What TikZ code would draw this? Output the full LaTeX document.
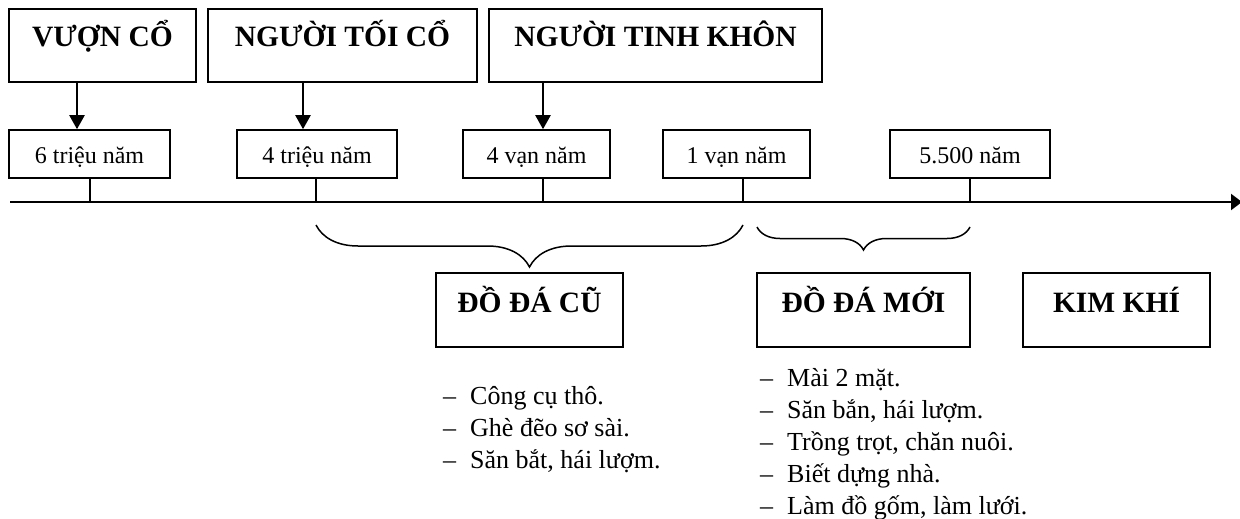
\documentclass[tikz,border=0pt]{standalone}
\usepackage{fontspec}
\setmainfont{Liberation Serif}
\usetikzlibrary{arrows.meta,decorations.pathreplacing,positioning}

\newcommand{\gach}{\makebox[27pt][l]{–}}

\tikzset{
  tieude/.style={draw, line width=1.8pt, inner sep=0pt, minimum width=187pt,
    text height=38pt, text depth=35pt, font=\fontsize{29.5}{31}\selectfont\bfseries},
  thoiky/.style={tieude, text height=39pt, text depth=35pt},
  moc/.style={draw, line width=1.6pt, inner sep=0pt, minimum width=160pt,
    text height=33pt, text depth=15pt, font=\fontsize{24}{26}\selectfont},
  dong/.style={anchor=base west, inner sep=0pt, font=\fontsize{26}{32}\selectfont},
  muiten/.style={line width=2.2pt, -{Triangle[length=14pt,width=15pt]}},
  truc/.style={line width=2.2pt, -{Triangle[length=11pt,width=16pt]}},
  vach/.style={line width=1.3pt},
  ngoac/.style={line width=1.5pt, decorate}
}

\begin{document}
\begin{tikzpicture}[x=1pt,y=-1pt]
  \useasboundingbox (0,0) rectangle (1240,519);

  \node[tieude] (vuon) at (102.5,45.5) {VƯỢN CỔ};
  \node[tieude, minimum width=269pt] (toico) at (342.5,45.5) {NGƯỜI TỐI CỔ};
  \node[tieude, minimum width=333pt] (tinhkhon) at (655.5,45.5) {NGƯỜI TINH KHÔN};

  \node[moc, minimum width=161pt] (m6trieu) at (89.5,154) {6 triệu năm};
  \node[moc] (m4trieu) at (317,154) {4 triệu năm};
  \node[moc, minimum width=147pt] (m4van) at (536.5,154) {4 vạn năm};
  \node[moc, minimum width=147pt] (m1van) at (736.5,154) {1 vạn năm};
  \node[moc] (m5500) at (970,154) {5.500 năm};

  \coordinate (a1) at (77,0);
  \coordinate (a2) at (303,0);
  \coordinate (a3) at (543,0);
  \draw[muiten] (vuon.south -| a1) -- (m6trieu.north -| a1);
  \draw[muiten] (toico.south -| a2) -- (m4trieu.north -| a2);
  \draw[muiten] (tinhkhon.south -| a3) -- (m4van.north -| a3);

  \coordinate (dau) at (10,202);
  \coordinate (cuoi) at (1242,202);
  \draw[truc] (dau) -- (cuoi);

  \coordinate (t1) at (90,202);
  \coordinate (t2) at (316,202);
  \coordinate (t3) at (543,202);
  \coordinate (t4) at (743,202);
  \coordinate (t5) at (970,202);
  \draw[vach] (m6trieu.south -| t1) -- (t1);
  \draw[vach] (m4trieu.south -| t2) -- (t2);
  \draw[vach] (m4van.south -| t3) -- (t3);
  \draw[vach] (m1van.south -| t4) -- (t4);
  \draw[vach] (m5500.south -| t5) -- (t5);

  \draw[ngoac, decoration={brace, mirror, amplitude=42pt}]
    ([yshift=-23pt]t2) -- ([yshift=-23pt]t4);
  \draw[ngoac, decoration={brace, mirror, amplitude=23pt}]
    ([xshift=14pt,yshift=-25pt]t4) -- ([yshift=-25pt]t5);

  \node[thoiky] (dacu) at (529.5,310) {ĐỒ ĐÁ CŨ};
  \node[thoiky, minimum width=213pt] (damoi) at (863.5,310) {ĐỒ ĐÁ MỚI};
  \node[thoiky] (kimkhi) at (1116.5,310) {KIM KHÍ};

  \node[dong] (cu1) at (443,404) {\gach Công cụ thô.};
  \node[dong] (cu2) at (443,436) {\gach Ghè đẽo sơ sài.};
  \node[dong] (cu3) at (443,468) {\gach Săn bắt, hái lượm.};

  \node[dong] (moi1) at (760,386) {\gach Mài 2 mặt.};
  \node[dong] (moi2) at (760,418) {\gach Săn bắn, hái lượm.};
  \node[dong] (moi3) at (760,450) {\gach Trồng trọt, chăn nuôi.};
  \node[dong] (moi4) at (760,482) {\gach Biết dựng nhà.};
  \node[dong] (moi5) at (760,514) {\gach Làm đồ gốm, làm lưới.};
\end{tikzpicture}
\end{document}
